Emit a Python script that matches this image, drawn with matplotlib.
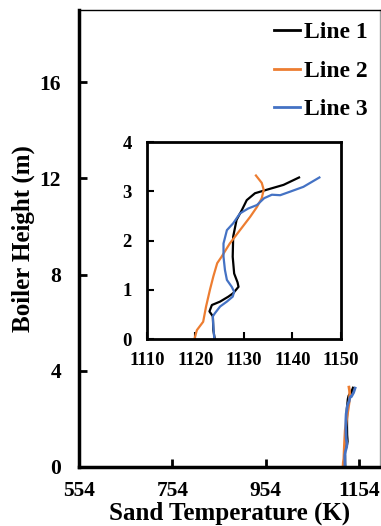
import matplotlib.pyplot as plt

plt.rcParams['font.family'] = ['Liberation Serif', 'DejaVu Serif']
plt.rcParams['font.weight'] = 'bold'

# Line 1 (black)
t1 = [1124.0, 1123.7, 1123.6, 1122.9, 1123.4, 1125.1, 1126.8, 1127.8, 1128.9, 1128.7,
      1128.0, 1127.7, 1127.8, 1128.5, 1129.6, 1130.6, 1132.3, 1134.7, 1138.2, 1141.4]
h1 = [0.0, 0.18, 0.46, 0.56, 0.69, 0.76, 0.86, 0.93, 1.06, 1.15,
      1.33, 1.67, 2.08, 2.42, 2.62, 2.82, 2.96, 3.03, 3.13, 3.28]
# Line 2 (orange)
t2 = [1119.8, 1120.3, 1121.6, 1122.2, 1123.0, 1123.7, 1124.5, 1125.4, 1127.1, 1129.2,
      1131.3, 1132.7, 1133.7, 1134.1, 1133.7, 1132.5]
h2 = [0.0, 0.18, 0.35, 0.66, 1.0, 1.27, 1.54, 1.67, 1.94, 2.21,
      2.48, 2.68, 2.86, 3.03, 3.17, 3.32]
# Line 3 (blue)
t3 = [1123.9, 1123.7, 1123.6, 1124.0, 1125.1, 1126.5, 1127.7, 1128.0, 1127.5, 1126.5,
      1126.1, 1125.8, 1125.8, 1126.5, 1127.8, 1128.5, 1129.2, 1130.9, 1132.7, 1134.2,
      1135.8, 1137.5, 1139.5, 1142.3, 1145.6]
h3 = [0.0, 0.25, 0.46, 0.52, 0.66, 0.76, 0.86, 0.96, 1.06, 1.2,
      1.4, 1.67, 1.94, 2.21, 2.35, 2.45, 2.55, 2.65, 2.72, 2.86,
      2.93, 2.92, 2.99, 3.09, 3.28]

main_xticks = [554, 754, 954, 1154]
main_yticks = [0, 4, 8, 12, 16]
ins_xticks = [1110, 1120, 1130, 1140, 1150]
ins_yticks = [0, 1, 2, 3, 4]

c1, c2, c3 = 'black', '#ed7d31', '#4472c4'

fig = plt.figure(figsize=(3.81, 5.26), dpi=100)
ax = fig.add_axes([0.2073, 0.1122, 0.7901, 0.8688])
ax.plot(t1, h1, color=c1, lw=2, label='Line 1')
ax.plot(t2, h2, color=c2, lw=2, label='Line 2')
ax.plot(t3, h3, color=c3, lw=2, label='Line 3')
ax.set_xlim(554, 1199)
ax.set_ylim(0, 19)
ax.set_xticks(main_xticks)
ax.set_yticks(main_yticks)
ax.tick_params(direction='in', length=6, width=2, labelsize=15.5)
ax.tick_params(axis='x', pad=10)
ax.tick_params(axis='y', pad=13)
for s in ['left', 'bottom']:
    ax.spines[s].set_linewidth(2.5)
ax.spines['top'].set_linewidth(1)
ax.spines['right'].set_linewidth(1)
ax.spines['right'].set_color('#a0a0a0')
ax.set_xlabel('Sand Temperature (K)', fontsize=18, fontweight='bold', labelpad=0.5)
ax.set_ylabel('Boiler Height (m)', fontsize=18, fontweight='bold', labelpad=3)
ax.legend(loc='upper right', frameon=False, handlelength=1.1,
          handletextpad=0.2, labelspacing=0.72, borderaxespad=0.1,
          prop={'weight': 'bold', 'size': 17})

ins = fig.add_axes([0.3858, 0.3555, 0.5084, 0.3745])
ins.plot(t1, h1, color=c1, lw=1.6)
ins.plot(t2, h2, color=c2, lw=1.6)
ins.plot(t3, h3, color=c3, lw=1.6)
ins.set_xlim(1110, 1150)
ins.set_ylim(0, 4)
ins.set_xticks(ins_xticks)
ins.set_yticks(ins_yticks)
ins.tick_params(direction='in', length=5, width=1.5, labelsize=13.5)
ins.tick_params(axis='x', pad=9)
ins.tick_params(axis='y', pad=11)
for s in ins.spines.values():
    s.set_linewidth(2)

fig.savefig('out.png', dpi=100)
